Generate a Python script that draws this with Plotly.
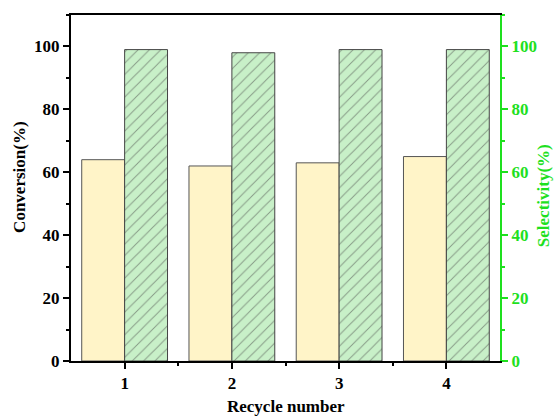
import plotly.graph_objects as go

recycle = [1, 2, 3, 4]
conversion = [64, 62, 63, 65]
selectivity = [99, 98, 99, 99]
tick_vals = [0, 20, 40, 60, 80, 100]

GREEN = "#1ee01e"
FONT = "Liberation Serif"
TICK = 17
TITLE = 17

fig = go.Figure()
fig.add_trace(go.Bar(
    x=recycle, y=conversion, width=0.4, offset=-0.4,
    marker=dict(color="#fff4c8", line=dict(color="#555555", width=1)),
    yaxis="y", name="Conversion"))
fig.add_trace(go.Bar(
    x=recycle, y=selectivity, width=0.4, offset=0,
    marker=dict(color="#c8f0c8", line=dict(color="#444444", width=1),
                pattern=dict(shape="/", fgcolor="#444444", bgcolor="#c8f0c8",
                             size=8, solidity=0.12)),
    yaxis="y2", name="Selectivity"))

fig.update_layout(
    width=555, height=419,
    margin=dict(l=71, r=55, t=15, b=58),
    paper_bgcolor="white", plot_bgcolor="white",
    showlegend=False,
    font=dict(family=FONT, size=TICK, color="black"),
    xaxis=dict(
        range=[0.5, 4.5], tickvals=recycle, ticktext=[f"<b>{v}</b>" for v in recycle],
        ticks="outside", ticklen=6, tickwidth=2, tickcolor="black",
        showline=True, linewidth=2, linecolor="black", mirror=True,
        showgrid=False, zeroline=False, automargin=False,
        minor=dict(tickvals=[1.5, 2.5, 3.5], ticks="outside", ticklen=3, tickwidth=2, tickcolor="black"),
    ),
    yaxis=dict(
        range=[0, 110], tickvals=tick_vals, ticktext=[f"<b>{v}</b>" for v in tick_vals],
        ticks="outside", ticklen=6, tickwidth=2, tickcolor="black",
        showline=True, linewidth=2, linecolor="black",
        showgrid=False, zeroline=False, automargin=False,
        minor=dict(dtick=10, tick0=0, ticks="outside", ticklen=3, tickwidth=2, tickcolor="black"),
    ),
    yaxis2=dict(
        range=[0, 110], overlaying="y", side="right",
        tickvals=tick_vals, ticktext=[f"<b>{v}</b>" for v in tick_vals],
        ticks="outside", ticklen=6, tickwidth=2, tickcolor=GREEN,
        tickfont=dict(color=GREEN),
        showline=True, linewidth=2, linecolor=GREEN,
        showgrid=False, zeroline=False, automargin=False,
        minor=dict(dtick=10, tick0=0, ticks="outside", ticklen=3, tickwidth=2, tickcolor=GREEN),
    ),
    annotations=[
        dict(text="<b>Recycle number</b>", xref="paper", yref="paper",
             x=0.5, y=-0.132, xanchor="center", yanchor="middle", showarrow=False,
             font=dict(size=TITLE, color="black")),
        dict(text="<b>Conversion(%)</b>", xref="paper", yref="paper",
             x=-0.119, y=0.532, xanchor="center", yanchor="middle", showarrow=False,
             textangle=-90, font=dict(size=TITLE, color="black")),
        dict(text="<b>Selectivity(%)</b>", xref="paper", yref="paper",
             x=1.103, y=0.477, xanchor="center", yanchor="middle", showarrow=False,
             textangle=-90, font=dict(size=TITLE, color=GREEN)),
    ],
)

fig.write_html("out.html")
